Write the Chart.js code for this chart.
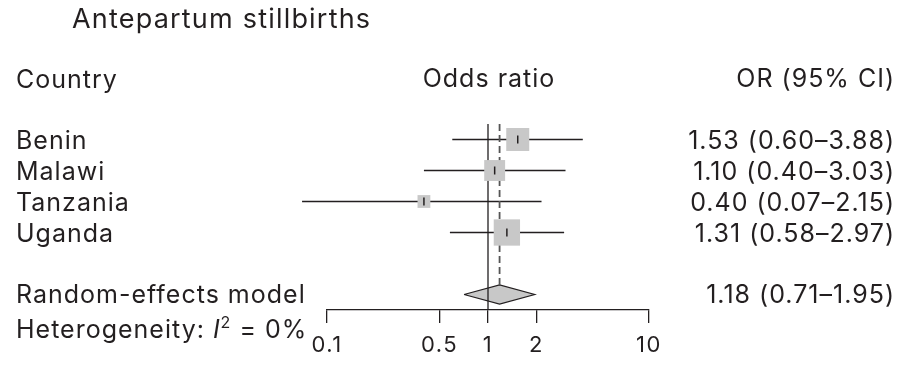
<!DOCTYPE html>
<html>
<head>
<meta charset="utf-8">
<script src="https://cdn.jsdelivr.net/npm/chart.js@4.4.0/dist/chart.umd.min.js"></script>
<style>
  body { margin: 0; background: #fff; }
  #wrap { width: 898px; height: 374px; position: relative; }
</style>
</head>
<body>
<div id="wrap"><canvas id="forestChart"></canvas></div>
<script>
var countries = ["Benin", "Malawi", "Tanzania", "Uganda"];
var orValues = [1.53, 1.10, 0.40, 1.31];
var ciLow = [0.60, 0.40, 0.07, 0.58];
var ciHigh = [3.88, 3.03, 2.15, 2.97];
var weights = [29, 24, 9, 38];
var pooled = { label: "Random-effects model", or: 1.18, low: 0.71, high: 1.95 };
var xTicks = [0.1, 0.5, 1, 2, 10];

var ink = "#231f20";
var font = "Inter, 'Noto Sans', sans-serif";
var pooledRow = countries.length + 2;
var diamondHalf = 0.31;

function fmt(v) { return v.toFixed(2); }

var ciSets = countries.map(function (c, i) {
    return {
        data: [{ x: ciLow[i], y: i + 1 }, { x: ciHigh[i], y: i + 1 }],
        showLine: true,
        borderColor: ink,
        borderWidth: 1.3,
        pointRadius: 0,
        clip: false,
        order: 5
    };
});

// the reference type is set a little wider than Inter, so add tracking
var spacingPlugin = {
    id: "tracking",
    beforeDraw: function (chart) { chart.ctx.letterSpacing = "1.5px"; }
};

var textPlugin = {
    id: "forestText",
    afterDraw: function (chart) {
        var ctx = chart.ctx;
        var y = chart.scales.y;
        ctx.save();
        ctx.fillStyle = ink;
        ctx.textBaseline = "alphabetic";
        ctx.letterSpacing = "1.2px";
        ctx.font = "27px " + font;
        ctx.textAlign = "left";
        ctx.fillText("Antepartum stillbirths", 72, 28);

        ctx.letterSpacing = "1px";
        ctx.font = "25px " + font;
        ctx.fillText("Country", 16, 88);
        ctx.textAlign = "center";
        ctx.fillText("Odds ratio", 489, 87);
        ctx.textAlign = "right";
        ctx.fillText("OR (95% CI)", 895, 87);

        countries.forEach(function (c, i) {
            var py = y.getPixelForValue(i + 1) + 9.5;
            ctx.textAlign = "left";
            ctx.fillText(c, 16, py);
            ctx.textAlign = "right";
            ctx.fillText(fmt(orValues[i]) + " (" + fmt(ciLow[i]) + "\u2013" + fmt(ciHigh[i]) + ")", 895, py);
        });

        var pp = y.getPixelForValue(pooledRow) + 8.5;
        ctx.textAlign = "left";
        ctx.fillText(pooled.label, 16, pp);
        ctx.textAlign = "right";
        ctx.fillText(fmt(pooled.or) + " (" + fmt(pooled.low) + "\u2013" + fmt(pooled.high) + ")", 895, pp);

        // heterogeneity line with italic I and superscript 2
        ctx.textAlign = "left";
        var hx = 16, hy = pp + 35;
        var s1 = "Heterogeneity: ";
        ctx.fillText(s1, hx, hy);
        hx += ctx.measureText(s1).width;
        ctx.font = "italic 25px " + font;
        ctx.fillText("I", hx, hy);
        hx += ctx.measureText("I").width;
        ctx.font = "16px " + font;
        ctx.fillText("2", hx, hy - 10);
        hx += ctx.measureText("2").width;
        ctx.font = "25px " + font;
        ctx.fillText(" = 0%", hx, hy);
        ctx.restore();
    }
};

new Chart("forestChart", {
    type: "scatter",
    data: {
        datasets: ciSets.concat([
            {
                // study boxes
                data: orValues.map(function (v, i) { return { x: v, y: i + 1 }; }),
                pointStyle: "rect",
                pointRadius: weights.map(function (w) { return 4.27 * Math.sqrt(w) / Math.SQRT2; }),
                backgroundColor: "#c8c8c8",
                borderWidth: 0,
                order: 1
            },
            {
                // estimate marks
                data: orValues.map(function (v, i) { return { x: v, y: i + 1 }; }),
                pointStyle: "line",
                rotation: 90,
                pointRadius: 4,
                borderColor: ink,
                borderWidth: 1.5,
                order: 0
            },
            {
                // pooled diamond
                data: [
                    { x: pooled.low, y: pooledRow },
                    { x: pooled.or, y: pooledRow - diamondHalf },
                    { x: pooled.high, y: pooledRow },
                    { x: pooled.or, y: pooledRow + diamondHalf },
                    { x: pooled.low, y: pooledRow }
                ],
                showLine: true,
                fill: "shape",
                backgroundColor: "#c8c8c8",
                borderColor: ink,
                borderWidth: 1.2,
                pointRadius: 0,
                order: 3
            },
            {
                // line of no effect
                data: [{ x: 1, y: 0.5 }, { x: 1, y: pooledRow + 0.5 }],
                showLine: true,
                borderColor: ink,
                borderWidth: 1.3,
                pointRadius: 0,
                order: 2
            },
            {
                // pooled estimate
                data: [{ x: pooled.or, y: 0.5 }, { x: pooled.or, y: pooledRow - diamondHalf }],
                showLine: true,
                borderColor: "#555",
                borderWidth: 1.8,
                borderDash: [7, 4],
                pointRadius: 0,
                order: 2
            }
        ])
    },
    options: {
        responsive: true,
        maintainAspectRatio: false,
        animation: false,
        events: [],
        layout: { padding: { left: 327, right: 249, top: 124, bottom: 0 } },
        plugins: {
            legend: { display: false },
            tooltip: { enabled: false }
        },
        scales: {
            x: {
                type: "logarithmic",
                min: 0.1,
                max: 10,
                afterBuildTicks: function (scale) {
                    scale.ticks = xTicks.map(function (v) { return { value: v }; });
                },
                afterFit: function (scale) { scale.height = 64; },
                ticks: {
                    autoSkip: false,
                    maxRotation: 0,
                    color: ink,
                    padding: 9,
                    font: { family: font, size: 22 },
                    callback: function (v) { return String(v); }
                },
                grid: {
                    drawOnChartArea: false,
                    tickLength: 13,
                    color: ink,
                    lineWidth: 1.3
                },
                border: { display: true, color: ink, width: 1.3 }
            },
            y: {
                type: "linear",
                min: 0.5,
                max: pooledRow + 0.5,
                reverse: true,
                display: false
            }
        }
    },
    plugins: [spacingPlugin, textPlugin]
});
</script>
</body>
</html>
